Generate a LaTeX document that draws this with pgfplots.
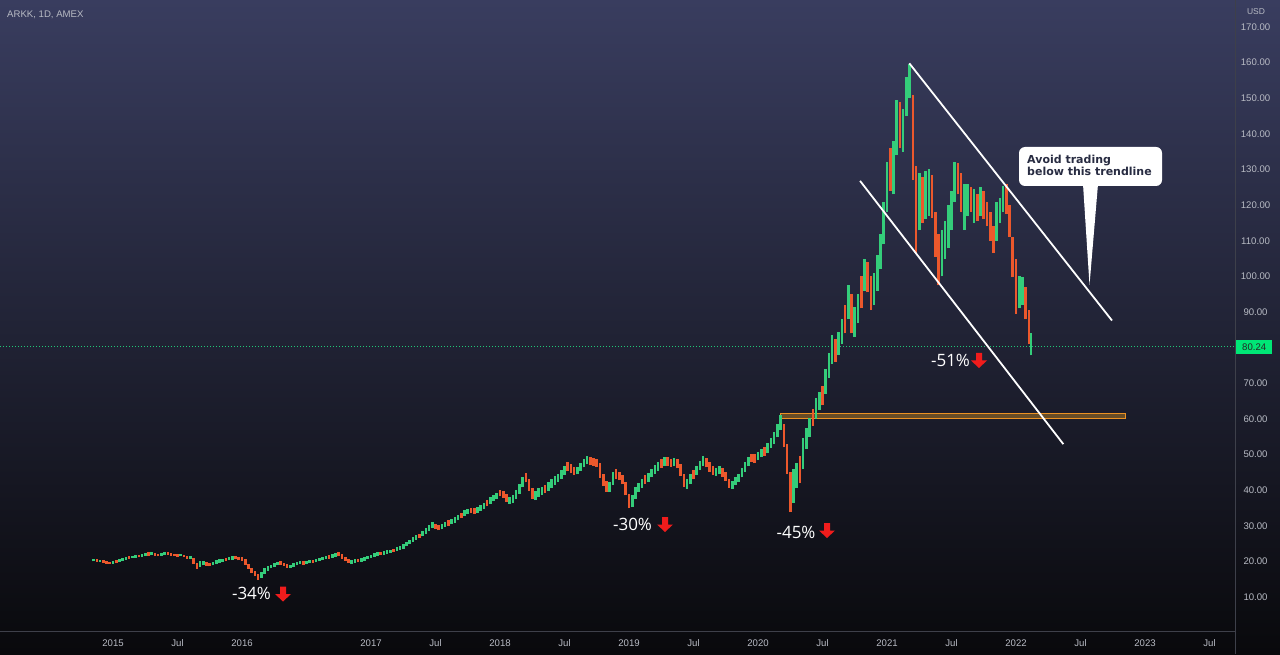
\documentclass[border=0pt]{standalone}
\usepackage{pgfplots}
\pgfplotsset{compat=1.18}
\usepackage{pgfplotstable}
\usepackage{fontspec}
\setmainfont{Liberation Sans}
\newfontfamily\opensans{Open Sans}
\newfontfamily\dejavu{DejaVu Sans}
\definecolor{bgtop}{RGB}{57,61,95}
\definecolor{bgmid}{RGB}{27,29,43}
\definecolor{bgbot}{RGB}{9,9,12}
\definecolor{tickgray}{RGB}{184,187,196}
\definecolor{sepgray}{RGB}{62,64,74}
\definecolor{upgreen}{RGB}{52,205,122}
\definecolor{dnred}{RGB}{236,88,44}
\definecolor{pricegreen}{RGB}{30,200,120}
\definecolor{pricebox}{RGB}{0,230,118}
\definecolor{rectfill}{RGB}{112,82,38}
\definecolor{rectdraw}{RGB}{235,145,35}
\definecolor{arrred}{RGB}{240,28,28}
\definecolor{callouttext}{RGB}{40,44,66}

\pgfplotstableread{
t lo hi c
2014.850 20.0 20.7 1
2014.875 19.9 20.6 0
2014.900 19.8 20.5 1
2014.925 19.6 20.3 0
2014.950 19.3 20.1 0
2014.975 19.2 19.9 0
2015.000 19.3 20.2 1
2015.025 19.5 20.4 0
2015.050 19.8 20.6 1
2015.075 20.2 20.9 1
2015.100 20.5 21.2 1
2015.125 20.6 21.4 0
2015.150 20.9 21.6 1
2015.175 21.0 21.8 1
2015.200 21.1 21.7 0
2015.225 21.2 22.0 1
2015.250 21.5 22.3 1
2015.275 21.6 22.5 0
2015.300 21.7 22.6 1
2015.325 21.5 22.3 0
2015.350 21.4 22.1 0
2015.375 21.6 22.4 1
2015.400 21.7 22.5 1
2015.425 21.8 22.6 0
2015.450 21.6 22.4 0
2015.475 21.5 22.2 0
2015.500 21.2 22.0 0
2015.525 21.4 22.1 1
2015.550 21.1 21.9 0
2015.575 20.8 21.6 0
2015.600 20.6 21.4 1
2015.625 19.2 21.0 0
2015.650 17.9 19.6 0
2015.675 18.5 20.0 1
2015.700 18.9 20.2 1
2015.725 18.7 19.8 0
2015.750 18.6 19.6 0
2015.775 18.9 19.9 1
2015.800 19.3 20.3 1
2015.825 19.6 20.6 1
2015.850 19.9 20.8 1
2015.875 20.1 21.0 0
2015.900 20.4 21.3 1
2015.925 20.5 21.5 1
2015.950 20.6 21.6 0
2015.975 20.3 21.3 0
2016.000 20.2 21.1 0
2016.025 19.0 20.6 0
2016.050 17.9 19.3 0
2016.075 16.8 18.2 0
2016.100 15.8 17.3 0
2016.125 14.7 16.4 0
2016.150 15.4 17.0 1
2016.175 16.5 18.0 1
2016.200 17.4 18.6 1
2016.225 18.0 19.1 1
2016.250 18.5 19.6 1
2016.275 18.9 19.9 1
2016.300 19.1 20.0 0
2016.325 18.7 19.6 0
2016.350 18.2 19.2 0
2016.375 18.2 19.0 1
2016.400 18.5 19.4 1
2016.425 18.9 19.8 1
2016.450 19.2 20.1 1
2016.475 19.1 20.0 0
2016.500 19.2 20.1 1
2016.525 19.4 20.3 1
2016.550 19.5 20.4 0
2016.575 19.7 20.6 1
2016.600 20.0 20.9 1
2016.625 20.3 21.2 1
2016.650 20.6 21.5 1
2016.675 20.8 21.7 0
2016.700 21.0 22.0 1
2016.725 21.3 22.3 1
2016.750 21.4 22.5 0
2016.775 20.8 22.0 0
2016.800 20.2 21.3 0
2016.825 19.5 20.6 0
2016.850 19.3 20.3 1
2016.875 19.6 20.6 1
2016.900 19.8 20.8 0
2016.925 19.9 20.9 1
2016.950 20.2 21.2 1
2016.975 20.6 21.6 1
2017.000 21.0 21.9 1
2017.025 21.3 22.3 1
2017.050 21.6 22.5 1
2017.075 21.8 22.7 0
2017.100 21.9 22.9 1
2017.125 22.2 23.1 1
2017.150 22.4 23.3 1
2017.175 22.6 23.6 0
2017.200 22.9 24.0 1
2017.225 23.2 24.3 1
2017.250 23.6 24.8 1
2017.275 24.2 25.4 1
2017.300 24.8 26.0 1
2017.325 25.4 26.7 1
2017.350 26.0 27.3 1
2017.375 26.5 27.8 0
2017.400 27.0 28.5 1
2017.425 27.8 29.3 1
2017.450 28.6 30.2 1
2017.475 29.4 31.0 1
2017.500 29.2 30.6 0
2017.525 28.7 30.1 0
2017.550 29.0 30.5 1
2017.575 29.6 31.0 1
2017.600 30.0 31.5 0
2017.625 30.4 32.0 1
2017.650 30.9 32.5 1
2017.675 31.5 33.0 1
2017.700 32.1 33.6 0
2017.725 32.7 34.3 1
2017.750 33.3 34.8 1
2017.775 33.6 35.0 0
2017.800 33.4 34.9 0
2017.825 33.6 35.2 1
2017.850 34.2 35.8 1
2017.875 34.8 36.5 1
2017.900 35.4 37.1 0
2017.925 36.1 38.0 1
2017.950 36.9 38.7 1
2017.975 37.6 39.3 1
2018.000 38.3 40.0 0
2018.025 37.8 39.8 0
2018.050 36.8 38.9 0
2018.075 36.2 38.2 1
2018.100 36.4 38.5 1
2018.125 37.4 40.0 1
2018.150 39.0 41.8 1
2018.175 40.8 43.6 1
2018.200 42.2 44.8 0
2018.225 39.8 43.2 0
2018.250 37.6 40.6 0
2018.275 37.2 39.8 1
2018.300 38.0 40.5 1
2018.325 38.7 41.0 1
2018.350 39.3 41.5 0
2018.375 39.8 42.2 1
2018.400 40.6 43.0 1
2018.425 41.5 43.9 1
2018.450 42.3 44.6 1
2018.475 43.2 45.6 1
2018.500 44.3 46.8 1
2018.525 45.3 47.8 0
2018.550 44.8 47.2 0
2018.575 44.2 46.4 0
2018.600 44.4 46.6 1
2018.625 45.3 47.6 1
2018.650 46.4 48.6 1
2018.675 47.4 49.6 1
2018.700 47.0 49.2 0
2018.725 46.8 48.9 0
2018.750 46.5 48.6 0
2018.775 43.5 47.6 0
2018.800 41.2 44.5 0
2018.825 39.6 42.6 0
2018.850 39.4 42.2 1
2018.875 41.5 45.2 1
2018.900 43.2 45.8 0
2018.925 42.8 45.0 0
2018.950 41.6 44.2 0
2018.975 38.5 42.3 0
2019.000 34.9 39.0 0
2019.025 35.2 38.6 1
2019.050 37.6 41.0 1
2019.075 39.4 42.0 1
2019.100 40.6 43.0 1
2019.125 41.8 44.2 0
2019.150 42.4 44.8 1
2019.175 43.6 46.0 1
2019.200 44.6 47.1 1
2019.225 45.5 47.9 1
2019.250 46.3 48.6 0
2019.275 46.8 49.3 1
2019.300 46.9 49.2 0
2019.325 46.5 48.8 0
2019.350 46.8 49.0 1
2019.375 46.2 48.6 0
2019.400 44.0 47.2 0
2019.425 40.8 44.5 0
2019.450 40.4 43.2 1
2019.475 41.8 44.6 1
2019.500 43.0 45.6 0
2019.525 44.2 46.8 1
2019.550 45.6 48.2 1
2019.575 46.8 49.5 1
2019.600 46.4 49.0 0
2019.625 45.2 47.8 0
2019.650 44.3 46.8 0
2019.675 44.0 46.2 1
2019.700 44.4 46.7 1
2019.725 43.8 46.3 0
2019.750 42.6 45.0 0
2019.775 40.6 43.2 0
2019.800 40.4 42.6 1
2019.825 41.4 43.8 1
2019.850 42.3 44.6 1
2019.875 43.6 46.3 1
2019.900 45.2 47.8 1
2019.925 46.8 49.4 1
2019.950 47.9 50.2 0
2019.975 47.6 50.0 0
2020.000 48.4 50.8 1
2020.025 49.2 51.6 1
2020.050 49.6 52.2 0
2020.075 50.4 53.2 1
2020.100 51.8 54.6 1
2020.125 53.0 56.2 1
2020.150 54.8 58.6 1
2020.175 56.8 61.0 1
2020.200 52.0 58.5 0
2020.225 44.5 53.0 0
2020.250 33.8 45.0 0
2020.275 36.5 46.0 1
2020.300 40.5 47.5 1
2020.325 42.0 49.5 0
2020.350 46.0 54.5 1
2020.375 51.5 57.5 1
2020.400 55.0 60.2 1
2020.425 58.0 62.8 0
2020.450 60.0 65.8 1
2020.475 62.5 67.5 1
2020.500 63.8 69.2 0
2020.525 67.0 74.0 1
2020.550 71.5 78.5 1
2020.575 75.5 83.5 1
2020.600 76.0 82.5 0
2020.625 78.0 84.5 1
2020.650 81.0 88.0 1
2020.675 84.0 92.0 0
2020.700 88.0 97.5 1
2020.725 84.0 95.0 0
2020.750 83.0 91.5 1
2020.775 87.0 95.0 1
2020.800 91.0 100.0 0
2020.825 96.0 105.0 1
2020.850 95.5 104.0 0
2020.875 90.5 100.0 0
2020.900 92.0 101.0 1
2020.925 96.0 106.0 1
2020.950 102.0 112.0 1
2020.975 109.0 121.0 1
2021.000 118.0 132.0 1
2021.025 124.0 136.0 0
2021.050 123.0 138.0 1
2021.075 134.0 149.5 1
2021.100 136.0 149.0 0
2021.125 135.0 147.0 1
2021.150 145.0 156.0 1
2021.175 150.0 159.7 1
2021.200 127.0 151.0 0
2021.225 106.5 131.0 0
2021.250 113.0 129.0 1
2021.275 115.0 128.0 0
2021.300 116.0 129.5 1
2021.325 117.0 130.0 1
2021.350 116.5 128.5 0
2021.375 105.5 118.0 0
2021.400 97.5 112.0 0
2021.425 100.0 113.0 1
2021.450 105.0 115.5 1
2021.475 108.0 120.0 1
2021.500 113.0 124.0 1
2021.525 121.0 132.0 1
2021.550 123.0 131.8 0
2021.575 118.0 129.0 0
2021.600 113.0 126.0 1
2021.625 117.0 126.0 1
2021.650 118.0 125.0 0
2021.675 115.0 124.5 1
2021.700 115.5 123.0 0
2021.725 117.0 125.0 1
2021.750 116.0 124.0 0
2021.775 114.0 121.0 0
2021.800 110.0 118.0 0
2021.825 106.5 114.0 0
2021.850 110.0 121.0 1
2021.875 115.0 122.0 1
2021.900 118.0 125.5 1
2021.925 117.5 126.0 0
2021.950 111.0 120.0 0
2021.975 99.8 111.0 0
2022.000 89.5 105.0 0
2022.025 91.0 100.0 1
2022.050 92.0 99.8 1
2022.075 88.0 97.0 0
2022.100 81.0 90.5 0
2022.115 77.8 84.0 1
}\candles

\newcommand\dnarrow[1]{\fill[arrred] (#1) ++(-3,-7.5) -- ++(6,0) -- ++(0,7.5) -- ++(5,0) -- ++(-8,7.5) -- ++(-8,-7.5) -- ++(5,0) -- cycle;}

\begin{document}
\begin{tikzpicture}
\useasboundingbox (0,0) rectangle (1280pt,654pt);
\shade[top color=bgtop, middle color=bgmid, bottom color=bgbot] (0,0) rectangle (1280pt,654pt);
\begin{axis}[
  at={(0pt,23pt)}, anchor=south west,
  width=1235pt, height=631pt, scale only axis,
  xmin=2014.124, xmax=2023.698, ymin=0.45, ymax=177.57,
  axis line style={draw=none},
  major tick length=0pt,
  xtick={2015,2015.5,2016,2017,2017.5,2018,2018.5,2019,2019.5,2020,2020.5,2021,2021.5,2022,2022.5,2023,2023.5},
  xticklabels={2015,Jul,2016,2017,Jul,2018,Jul,2019,Jul,2020,Jul,2021,Jul,2022,Jul,2023,Jul},
  ytick={10,20,30,40,50,60,70,90,100,110,120,130,140,150,160,170},
  yticklabels={10.00,20.00,30.00,40.00,50.00,60.00,70.00,90.00,100.00,110.00,120.00,130.00,140.00,150.00,160.00,170.00},
  yticklabel pos=right,
  xticklabel style={anchor=center, yshift=-12pt},
  yticklabel style={anchor=center, xshift=20.5pt},
  tick label style={font=\fontsize{9.6}{10}\selectfont, text=tickgray},
  scaled x ticks=false,
]
% price line
\addplot[pricegreen, line width=0.8pt, dash pattern=on 1pt off 2pt, forget plot] coordinates {(2014.124,80.24) (2023.698,80.24)};
% support zone
\addplot[fill=rectfill, draw=rectdraw, line width=0.9pt, fill opacity=0.9, forget plot] coordinates {(2020.171,60.04) (2022.850,60.04) (2022.850,61.56) (2020.171,61.56)} -- cycle;
% candles
\addplot[draw=none, mark=none, forget plot,
  restrict expr to domain={\thisrow{c}}{0.5:1.5},
  error bars/.cd, y dir=plus, y explicit, error mark=none,
  error bar style={line width=2.6pt, draw=upgreen, solid}]
  table[x=t, y=lo, y error plus expr=\thisrow{hi}-\thisrow{lo}] {\candles};
\addplot[draw=none, mark=none, forget plot,
  restrict expr to domain={\thisrow{c}}{-0.5:0.5},
  error bars/.cd, y dir=plus, y explicit, error mark=none,
  error bar style={line width=2.6pt, draw=dnred, solid}]
  table[x=t, y=lo, y error plus expr=\thisrow{hi}-\thisrow{lo}] {\candles};
% trendlines
\addplot[white, line width=1.8pt, forget plot] coordinates {(2021.173,159.8) (2022.744,87.6)};
\addplot[white, line width=1.8pt, forget plot] coordinates {(2020.791,126.8) (2022.367,52.9)};
\end{axis}
\begin{scope}[x=1pt,y=-1pt,shift={(0pt,654pt)}]
  \draw[sepgray, line width=1pt] (1235,0) -- (1235,654);
  \draw[sepgray, line width=1pt] (0,631) -- (1235,631);
  \node[anchor=base west, inner sep=0, text=tickgray, font=\fontsize{9.6}{10}\selectfont] at (7,17.3) {ARKK, 1D, AMEX};
  \node[anchor=center, inner sep=0, text=tickgray, font=\fontsize{8.5}{9}\selectfont] at (1256,12) {USD};
  \node[anchor=west, fill=pricebox, text=black!85, minimum width=36pt, minimum height=14pt, inner sep=0, font=\fontsize{9.6}{10}\selectfont] at (1236,347) {80.24};
  % percentage labels
  \node[anchor=center, inner sep=0, text=white, font=\opensans\fontsize{17}{18}\selectfont] at (251.5,593) {-34\%};
  \node[anchor=center, inner sep=0, text=white, font=\opensans\fontsize{17}{18}\selectfont] at (632.5,524.5) {-30\%};
  \node[anchor=center, inner sep=0, text=white, font=\opensans\fontsize{17}{18}\selectfont] at (796,532) {-45\%};
  \node[anchor=center, inner sep=0, text=white, font=\opensans\fontsize{17}{18}\selectfont] at (950.5,360) {-51\%};
  \dnarrow{283,594}
  \dnarrow{665,524.5}
  \dnarrow{827,530.5}
  \dnarrow{979,360.5}
  % callout
  \fill[white, rounded corners=6pt] (1019,147) rectangle (1162,186);
  \fill[white] (1083,184) -- (1098,184) -- (1089.5,285) -- cycle;
  \node[anchor=base west, inner sep=0, text=callouttext, font=\dejavu\bfseries\fontsize{11}{12}\selectfont] at (1027,163.5) {Avoid trading};
  \node[anchor=base west, inner sep=0, text=callouttext, font=\dejavu\bfseries\fontsize{11}{12}\selectfont] at (1027,176) {below this trendline};
\end{scope}
\end{tikzpicture}
\end{document}
